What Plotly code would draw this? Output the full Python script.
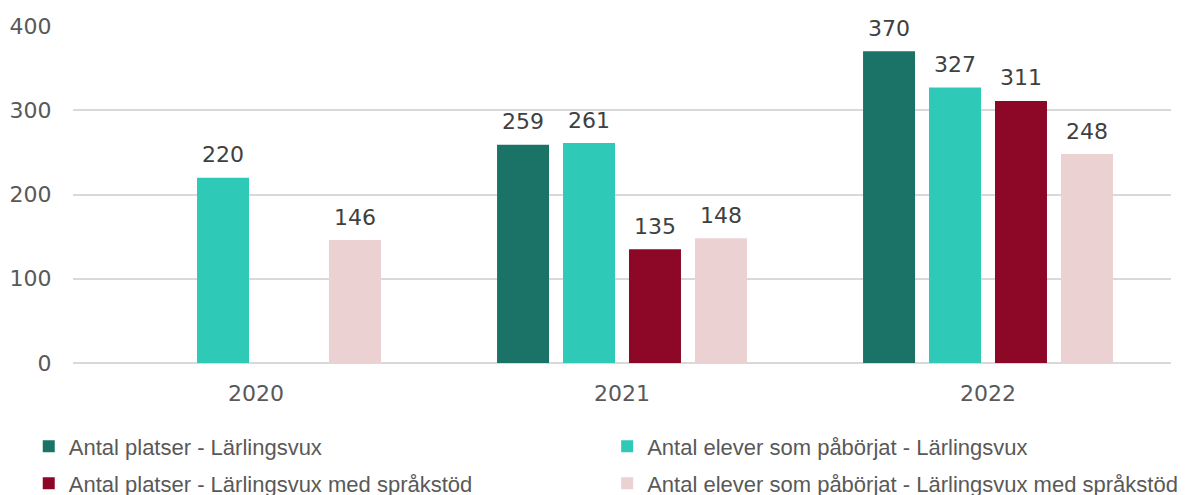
import plotly.graph_objects as go

years = ["2020", "2021", "2022"]
series_names = [
    "Antal platser - Lärlingsvux",
    "Antal elever som påbörjat - Lärlingsvux",
    "Antal platser - Lärlingsvux med språkstöd",
    "Antal elever som påbörjat - Lärlingsvux med språkstöd",
]
platser = [None, 259, 370]
elever = [220, 261, 327]
platser_sprak = [None, 135, 311]
elever_sprak = [146, 148, 248]
colors = ["#1A7366", "#2EC9B7", "#8C0826", "#EBD1D1"]
legend_ids = ["legend", "legend2", "legend3", "legend4"]
series_values = [platser, elever, platser_sprak, elever_sprak]

fig = go.Figure()
for name, vals, col, lg in zip(series_names, series_values, colors, legend_ids):
    fig.add_trace(go.Bar(
        x=years, y=vals, name=name, marker_color=col, marker_line_width=0,
        legend=lg, hoverinfo="skip",
    ))
# data labels, grouped the same way as the bars
for name, vals in zip(series_names, series_values):
    fig.add_trace(go.Scatter(
        x=years, y=vals, mode="markers+text",
        text=[("" if v is None else str(v)) for v in vals],
        textposition="top center", cliponaxis=False,
        marker=dict(size=14.4, opacity=0, color="white"),
        textfont=dict(family="DejaVu Sans", size=22, color="#404040"),
        showlegend=False, hoverinfo="skip",
    ))

legfont = dict(family="Liberation Sans, Arial, sans-serif", size=22, color="#595959")
col1_x, col2_x = -0.0403, 0.4865
row1_y, row2_y = -0.2478, -0.3576
legend_pos = [(col1_x, row1_y), (col2_x, row1_y), (col1_x, row2_y), (col2_x, row2_y)]
legend_layouts = {}
for lg, (lx, ly) in zip(legend_ids, legend_pos):
    legend_layouts[lg] = dict(orientation="h", x=lx, xanchor="left", y=ly, yanchor="middle",
                              font=legfont, bgcolor="rgba(0,0,0,0)", borderwidth=0)

fig.update_layout(
    width=1186, height=487,
    margin=dict(l=65, r=23, t=18, b=132, autoexpand=False),
    plot_bgcolor="white", paper_bgcolor="white",
    font=dict(family="DejaVu Sans", size=22, color="#595959"),
    barmode="group", bargap=0.279, bargroupgap=0.212,
    scattermode="group", scattergap=0.279,
    showlegend=True,
    **legend_layouts,
)
fig.update_yaxes(range=[0, 400], dtick=100, gridcolor="#D9D9D9", gridwidth=2,
                 zeroline=True, zerolinecolor="#D9D9D9", zerolinewidth=2,
                 ticks="outside", ticklen=16, tickcolor="white",
                 tickfont=dict(family="DejaVu Sans", size=22, color="#595959"))
fig.update_xaxes(showline=False, ticks="outside", ticklen=11, tickcolor="white",
                 tickfont=dict(family="DejaVu Sans", size=22, color="#595959"))

fig.write_html("out.html")
